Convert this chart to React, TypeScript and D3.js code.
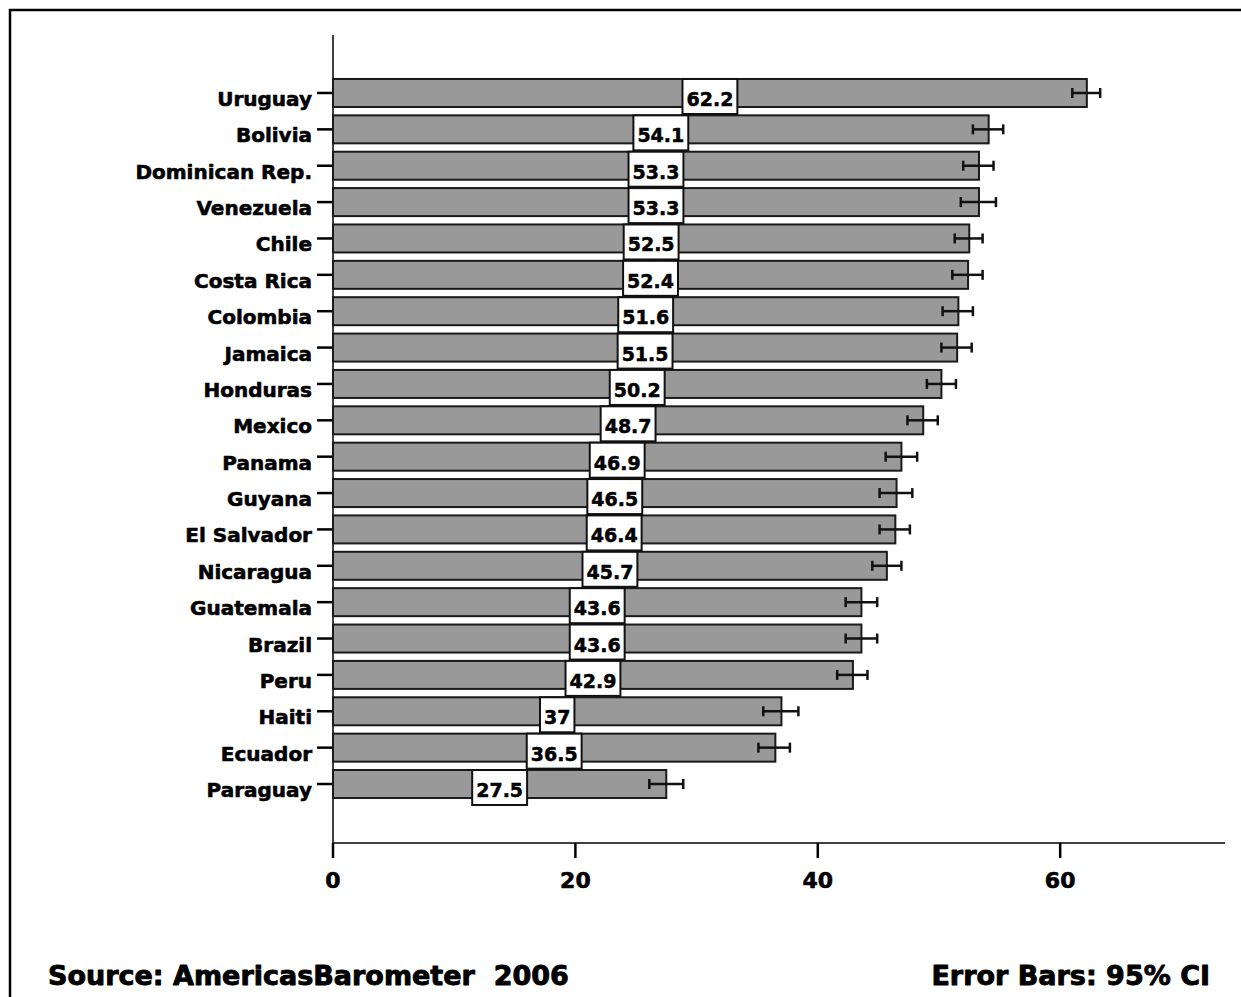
import React, { useEffect, useRef } from 'react';
import * as d3 from 'd3';

const countries = [
  'Uruguay', 'Bolivia', 'Dominican Rep.', 'Venezuela', 'Chile', 'Costa Rica',
  'Colombia', 'Jamaica', 'Honduras', 'Mexico', 'Panama', 'Guyana',
  'El Salvador', 'Nicaragua', 'Guatemala', 'Brazil', 'Peru', 'Haiti',
  'Ecuador', 'Paraguay',
];
const values = [62.2, 54.1, 53.3, 53.3, 52.5, 52.4, 51.6, 51.5, 50.2, 48.7, 46.9, 46.5, 46.4, 45.7, 43.6, 43.6, 42.9, 37, 36.5, 27.5];
const valueLabels = ['62.2', '54.1', '53.3', '53.3', '52.5', '52.4', '51.6', '51.5', '50.2', '48.7', '46.9', '46.5', '46.4', '45.7', '43.6', '43.6', '42.9', '37', '36.5', '27.5'];
const ciLow = [61.0, 52.8, 52.0, 51.8, 51.3, 51.1, 50.3, 50.2, 49.0, 47.4, 45.6, 45.1, 45.1, 44.5, 42.3, 42.3, 41.6, 35.5, 35.1, 26.1];
const ciHigh = [63.3, 55.3, 54.5, 54.7, 53.6, 53.6, 52.8, 52.7, 51.4, 49.9, 48.2, 47.8, 47.6, 46.9, 44.9, 44.9, 44.1, 38.4, 37.7, 28.9];
const xTicks = [0, 20, 40, 60];
const sourceText = 'Source: AmericasBarometer  2006';
const noteText = 'Error Bars: 95% CI';

const FONT = '"DejaVu Sans", Verdana, sans-serif';

export default function App() {
  const ref = useRef<SVGSVGElement>(null);

  useEffect(() => {
    const svg = d3.select(ref.current);
    svg.selectAll('*').remove();

    const x = d3.scaleLinear().domain([0, 73.6]).range([333, 1225]);
    const y = d3.scaleBand<string>().domain(countries).range([74.8, 802.2]).paddingInner(0.23).paddingOuter(0.115);
    const bw = y.bandwidth();

    const heavy = (sel: any, size: number, sw: number) =>
      sel.attr('font-family', FONT).attr('font-weight', 'bold').attr('font-size', size)
        .attr('fill', '#000').attr('stroke', '#000').attr('stroke-width', sw)
        .attr('stroke-linejoin', 'round');

    // outer frame (top & left visible)
    svg.append('rect').attr('x', 10).attr('y', 10).attr('width', 1400).attr('height', 1200)
      .attr('fill', 'none').attr('stroke', '#000').attr('stroke-width', 2.5);

    // y axis line
    svg.append('line').attr('x1', x(0)).attr('x2', x(0)).attr('y1', 35).attr('y2', 843)
      .attr('stroke', '#000').attr('stroke-width', 1.5);
    // x axis line
    svg.append('line').attr('x1', x(0)).attr('x2', x.range()[1]).attr('y1', 843).attr('y2', 843)
      .attr('stroke', '#000').attr('stroke-width', 1.5);

    // x ticks
    const xt = svg.append('g');
    xTicks.forEach((t) => {
      xt.append('line').attr('x1', x(t)).attr('x2', x(t)).attr('y1', 843).attr('y2', 858)
        .attr('stroke', '#000').attr('stroke-width', 2.5);
      heavy(xt.append('text').attr('x', x(t)).attr('y', 888).attr('text-anchor', 'middle'), 22, 0.6)
        .text(String(t));
    });

    // y ticks + labels
    countries.forEach((c) => {
      const cy = (y(c) as number) + bw / 2;
      svg.append('line').attr('x1', x(0) - 16).attr('x2', x(0)).attr('y1', cy).attr('y2', cy)
        .attr('stroke', '#000').attr('stroke-width', 2.5);
      heavy(svg.append('text').attr('x', 312).attr('y', cy + 13).attr('text-anchor', 'end'), 20, 0.6)
        .text(c);
    });

    // bars
    countries.forEach((c, i) => {
      svg.append('rect').attr('x', x(0)).attr('y', y(c) as number)
        .attr('width', x(values[i]) - x(0)).attr('height', bw)
        .attr('fill', '#999999').attr('stroke', '#1a1a1a').attr('stroke-width', 2);
    });

    // error bars
    countries.forEach((c, i) => {
      const cy = (y(c) as number) + bw / 2;
      const g = svg.append('g').attr('stroke', '#111').attr('stroke-width', 2.5);
      g.append('line').attr('x1', x(ciLow[i])).attr('x2', x(ciHigh[i])).attr('y1', cy).attr('y2', cy);
      g.append('line').attr('x1', x(ciLow[i])).attr('x2', x(ciLow[i])).attr('y1', cy - 5).attr('y2', cy + 5);
      g.append('line').attr('x1', x(ciHigh[i])).attr('x2', x(ciHigh[i])).attr('y1', cy - 5).attr('y2', cy + 5);
    });

    // value label boxes
    countries.forEach((c, i) => {
      const cy = (y(c) as number) + bw / 2;
      const cx = x(values[i] / 2);
      const g = svg.append('g');
      const rect = g.append('rect');
      const t = heavy(g.append('text').attr('x', cx).attr('y', cy + 13).attr('text-anchor', 'middle'), 19, 0.5)
        .text(valueLabels[i]);
      const w = (t.node() as SVGTextElement).getComputedTextLength() + 8;
      rect.attr('x', cx - w / 2).attr('y', cy - 14).attr('width', w).attr('height', 35)
        .attr('fill', '#fff').attr('stroke', '#111').attr('stroke-width', 2);
    });

    // footer
    heavy(svg.append('text').attr('x', 48).attr('y', 985), 27, 0.9)
      .style('white-space', 'pre').text(sourceText);
    heavy(svg.append('text').attr('x', 1210).attr('y', 985).attr('text-anchor', 'end'), 27, 0.9)
      .text(noteText);
  }, []);

  return (
    <div style={{ position: 'absolute', left: 0, top: 0, background: '#fff' }}>
      <svg ref={ref} width={1241} height={997} style={{ display: 'block' }} />
    </div>
  );
}
